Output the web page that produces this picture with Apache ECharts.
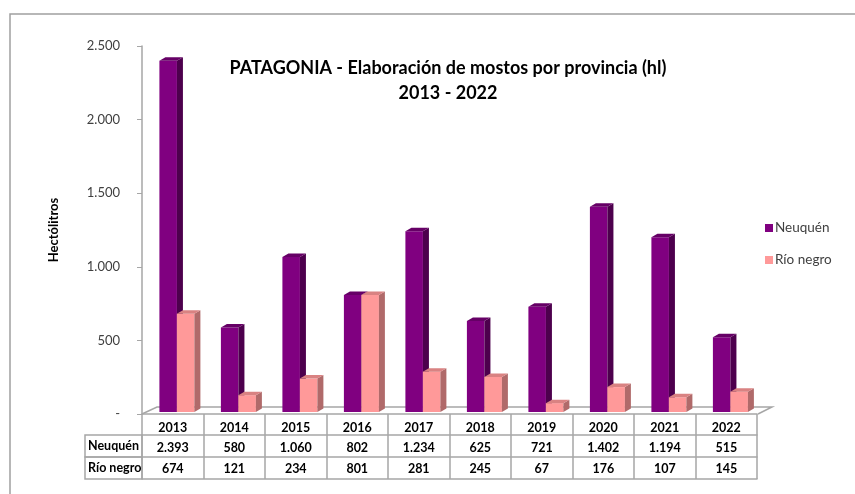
<!DOCTYPE html>
<html>
<head>
<meta charset="utf-8">
<script src="https://cdn.jsdelivr.net/npm/echarts@6/dist/echarts.min.js"></script>
<style>
  html, body { margin: 0; padding: 0; background: #fff; }
  #main { width: 855px; height: 494px; }
</style>
</head>
<body>
<div id="main"></div>
<script>
    var years = ['2013', '2014', '2015', '2016', '2017', '2018', '2019', '2020', '2021', '2022'];
    var neuquen = [2393, 580, 1060, 802, 1234, 625, 721, 1402, 1194, 515];
    var rioNegro = [674, 121, 234, 801, 281, 245, 67, 176, 107, 145];
    var yTicks = [0, 500, 1000, 1500, 2000, 2500];

    var FONT = 'Lato, "Noto Sans", sans-serif';
    var LINE = '#a6a6a6';
    // plot area
    var G = {left: 142, right: 98, top: 46, bottom: 80};
    var W = 855, H = 494;

    function miles(v) {
        if (v === 0) return '-';
        return String(v).replace(/\B(?=(\d{3})+(?!\d))/g, '.');
    }

    // barra con efecto 3D (cara frontal, lateral y superior)
    function bar3d(pos, face, side, topc) {
        return function (params, api) {
            var idx = api.value(0), val = api.value(1);
            var pTop = api.coord([idx, val]);
            var pBase = api.coord([idx, 0]);
            var band = api.size([1, 0])[0];
            var w = band * 0.285;
            var x0 = pBase[0] - band / 2 + band * pos;
            var y1 = pBase[1] - 2, y0 = pTop[1] - 1;
            var dx = 6, dy = -3.5;
            return {
                type: 'group',
                children: [
                    {type: 'rect', shape: {x: x0, y: y0, width: w, height: y1 - y0}, style: {fill: face}},
                    {type: 'polygon', shape: {points: [[x0 + w, y0], [x0 + w + dx, y0 + dy], [x0 + w + dx, y1 + dy], [x0 + w, y1]]}, style: {fill: side}},
                    {type: 'polygon', shape: {points: [[x0, y0], [x0 + dx, y0 + dy], [x0 + w + dx, y0 + dy], [x0 + w, y0]]}, style: {fill: topc}}
                ]
            };
        };
    }

    function tableAxis(offset, labels, margin, showTicks) {
        return {
            type: 'category',
            data: years,
            position: 'bottom',
            offset: offset,
            axisLine: {show: true, lineStyle: {color: LINE, width: 1.5}},
            axisTick: {show: showTicks, length: 22, lineStyle: {color: LINE, width: 1.5}},
            axisLabel: {
                show: !!labels,
                interval: 0,
                margin: margin,
                fontFamily: FONT, fontSize: 12.5, fontWeight: 'bold', color: '#000',
                formatter: function (v, i) { return labels ? labels[i] : ''; }
            },
            splitLine: {show: false}
        };
    }

    var option = {
        animation: false,
        backgroundColor: '#fff',
        title: {
            text: 'PATAGONIA - Elaboración de mostos por provincia (hl)\n2013 - 2022',
            left: 448, top: 56, textAlign: 'center', padding: 0,
            textStyle: {fontFamily: FONT, fontSize: 18, fontWeight: 'bold', color: '#000', lineHeight: 25}
        },
        legend: {
            orient: 'vertical',
            left: 760, top: 216,
            itemWidth: 8, itemHeight: 8, itemGap: 18,
            icon: 'rect',
            textStyle: {fontFamily: FONT, fontSize: 13.5, color: '#404040', padding: [0, 0, 0, -3]},
            data: ['Neuquén', 'Río negro']
        },
        grid: {left: G.left, right: G.right, top: G.top, bottom: G.bottom, containLabel: false},
        xAxis: [
            tableAxis(0, years, 7, true),
            tableAxis(21, neuquen.map(miles), 6, true),
            tableAxis(43, rioNegro.map(miles), 5, true),
            tableAxis(65, null, 0, false)
        ],
        yAxis: {
            type: 'value',
            min: yTicks[0], max: yTicks[yTicks.length - 1], interval: 500,
            name: 'Hectólitros',
            nameLocation: 'middle', nameRotate: 90, nameGap: 82,
            nameTextStyle: {fontFamily: FONT, fontSize: 13, fontWeight: 'bold', color: '#000'},
            axisLine: {show: true, lineStyle: {color: LINE, width: 1.5}},
            axisTick: {show: true, length: 5, lineStyle: {color: LINE}},
            axisLabel: {margin: 22, fontFamily: FONT, fontSize: 13, color: '#404040', formatter: miles},
            splitLine: {show: false}
        },
        graphic: [
            // marco del gráfico
            {type: 'rect', shape: {x: 10, y: 14, width: 900, height: 520}, style: {fill: null, stroke: '#a0a0a0', lineWidth: 1.5}, silent: true},
            // piso 3D
            {type: 'polyline', shape: {points: [[G.left, H - G.bottom], [G.left + 15, H - G.bottom - 7], [W - G.right + 15, H - G.bottom - 7], [W - G.right + 1, H - G.bottom]]}, style: {stroke: LINE, lineWidth: 1.5, fill: null}, silent: true},
            // celdas de nombres de fila
            {type: 'rect', shape: {x: 85, y: 435, width: 57, height: 22}, style: {fill: null, stroke: LINE, lineWidth: 1.5}, silent: true},
            {type: 'rect', shape: {x: 85, y: 457, width: 57, height: 22}, style: {fill: null, stroke: LINE, lineWidth: 1.5}, silent: true},
            {type: 'text', left: 88, top: 439, style: {text: 'Neuquén', font: 'bold 12.5px ' + FONT, fill: '#000'}},
            {type: 'text', left: 88, top: 461, style: {text: 'Río negro', font: 'bold 12.5px ' + FONT, fill: '#000'}}
        ],
        series: [
            {
                name: 'Neuquén', type: 'custom',
                itemStyle: {color: '#800080'},
                renderItem: bar3d(0.283, '#800080', '#4d004d', '#660066'),
                data: neuquen.map(function (v, i) { return [i, v]; })
            },
            {
                name: 'Río negro', type: 'custom',
                itemStyle: {color: '#ff9999'},
                renderItem: bar3d(0.567, '#ff9999', '#b06a6a', '#d98282'),
                data: rioNegro.map(function (v, i) { return [i, v]; })
            }
        ]
    };

    var myChart = echarts.init(document.getElementById('main'));
    myChart.setOption(option);
</script>
</body>
</html>
